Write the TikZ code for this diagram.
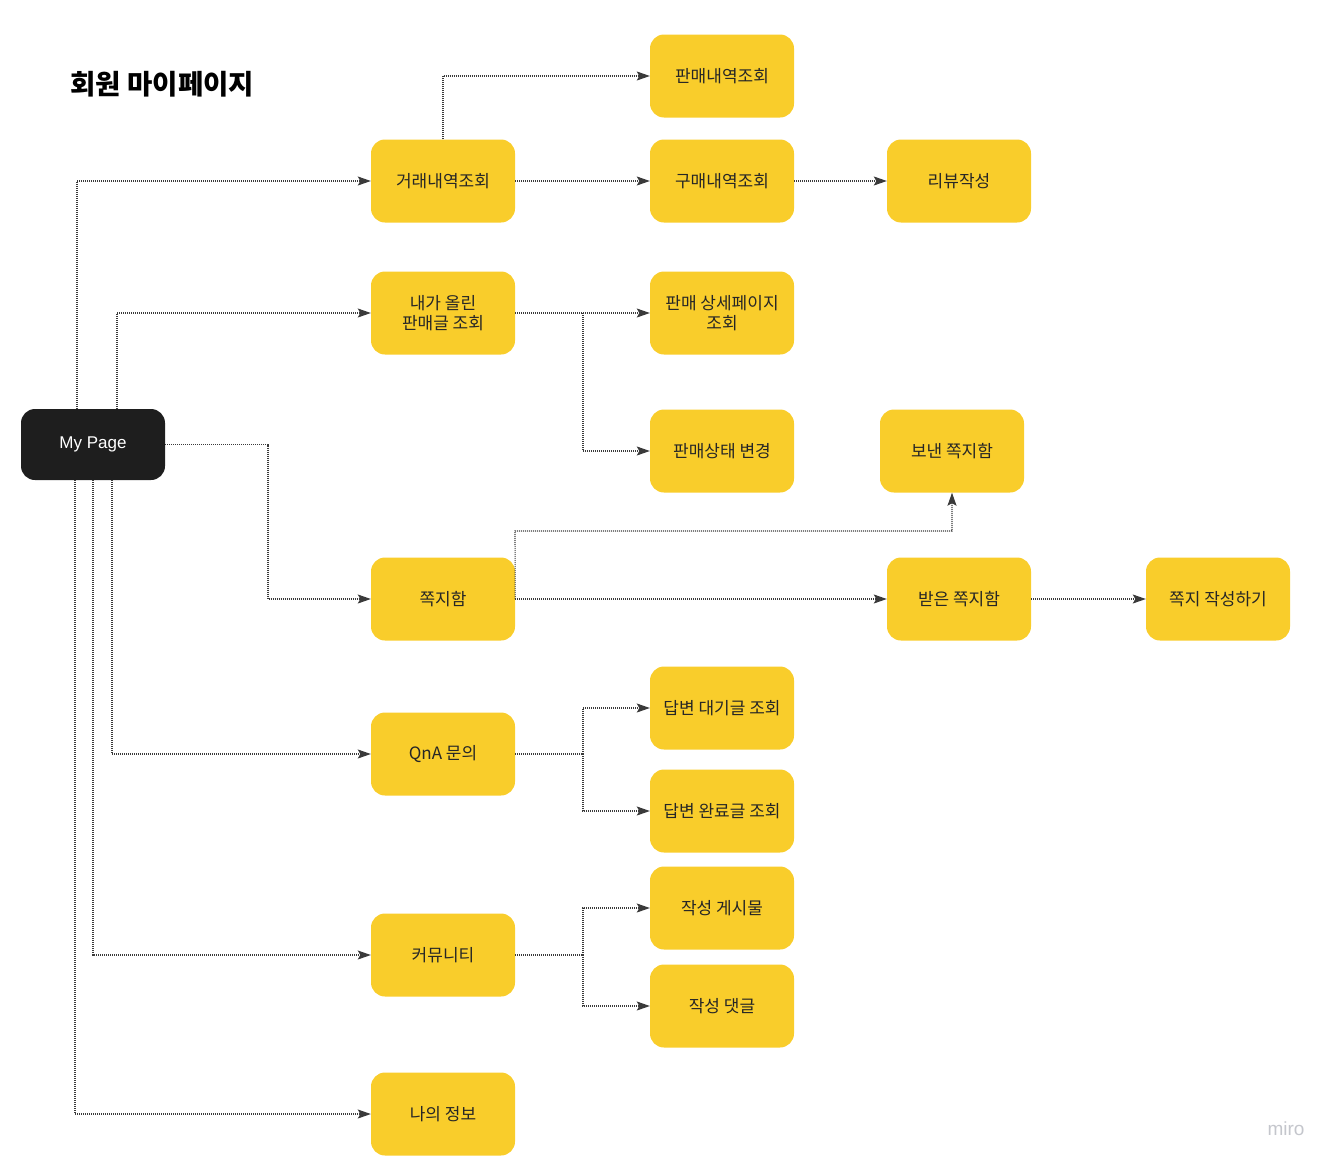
\documentclass[tikz,border=0pt]{standalone}
\usepackage{fontspec}
\setmainfont{Noto Sans CJK KR}
\newfontfamily\latinfont{Liberation Sans}
\usetikzlibrary{arrows.meta}

\definecolor{boxyellow}{HTML}{F9CD2B}
\definecolor{pagedark}{HTML}{1E1E1E}
\definecolor{linegray}{HTML}{3A3A3A}
\definecolor{mirogray}{HTML}{C4C6CC}

\tikzset{
  menubox/.style={rectangle, rounded corners=14pt, fill=boxyellow, minimum width=144pt,
    minimum height=83pt, align=center, inner sep=2pt, text=black!85,
    font=\fontsize{17}{20}\selectfont},
  rootbox/.style={menubox, fill=pagedark, minimum height=71pt, text=white,
    font=\latinfont\fontsize{17}{20}\selectfont},
  link/.style={linegray, line width=1.1pt, dash pattern=on 1pt off 1pt,
    -{Stealth[length=13pt,width=9pt,inset=2.5pt]}},
  branch/.style={link, -}
}

\begin{document}
\begin{tikzpicture}[x=1pt,y=-1pt]
\useasboundingbox (0,0) rectangle (1338,1167);

% title
\node[anchor=west, font=\bfseries\fontsize{27.5}{32}\selectfont] (title) at (67,84) {회원 마이페이지};

% root
\node[rootbox] (mypage) at (93,444.5) {My Page};

% first level
\node[menubox] (trade)   at (443,181)  {거래내역조회};
\node[menubox] (mypost)  at (443,313)  {내가 올린\\판매글 조회};
\node[menubox] (msgbox)  at (443,599)  {쪽지함};
\node[menubox] (qna)     at (443,754)  {QnA 문의};
\node[menubox] (commu)   at (443,955)  {커뮤니티};
\node[menubox] (myinfo)  at (443,1114) {나의 정보};

% second level
\node[menubox] (sold)    at (722,76)   {판매내역조회};
\node[menubox] (bought)  at (722,181)  {구매내역조회};
\node[menubox] (detail)  at (722,313)  {판매 상세페이지\\조회};
\node[menubox] (status)  at (722,451)  {판매상태 변경};
\node[menubox] (waiting) at (722,708)  {답변 대기글 조회};
\node[menubox] (done)    at (722,811)  {답변 완료글 조회};
\node[menubox] (posts)   at (722,908)  {작성 게시물};
\node[menubox] (replies) at (722,1006) {작성 댓글};

% third level
\node[menubox] (review)  at (959,181)  {리뷰작성};
\node[menubox] (sent)    at (952,451)  {보낸 쪽지함};
\node[menubox] (recv)    at (959,599)  {받은 쪽지함};
\node[menubox] (write)   at (1218,599) {쪽지 작성하기};

% miro mark
\node[text=mirogray, font=\latinfont\fontsize{19}{22}\selectfont] (miro) at (1286,1129) {miro};

% from my page
\draw[link] (mypage.north west -| 77,0) |- (trade.west);
\draw[link] (mypage.north west -| 117,0) |- (mypost.west);
\draw[link] (mypage.east) -| (268,599) -- (msgbox.west);
\draw[link] (mypage.south west -| 112,0) |- (qna.west);
\draw[link] (mypage.south west -| 93,0) |- (commu.west);
\draw[link] (mypage.south west -| 75,0) |- (myinfo.west);

% trade history
\draw[link] (trade.north) |- (sold.west);
\draw[link] (trade.east) -- (bought.west);
\draw[link] (bought.east) -- (review.west);

% my posts
\draw[link] (mypost.east) -- (detail.west);
\draw[link] (583,313) |- (status.west);

% messages
\draw[link] (msgbox.east) -- (recv.west);
\draw[link] (msgbox.east) -- (515,531) -| (sent.south);
\draw[link] (recv.east) -- (write.west);

% qna
\draw[branch] (qna.east) -- (583,754);
\draw[link] (583,754) |- (waiting.west);
\draw[link] (583,754) |- (done.west);

% community
\draw[branch] (commu.east) -- (583,955);
\draw[link] (583,955) |- (posts.west);
\draw[link] (583,955) |- (replies.west);

\end{tikzpicture}
\end{document}
